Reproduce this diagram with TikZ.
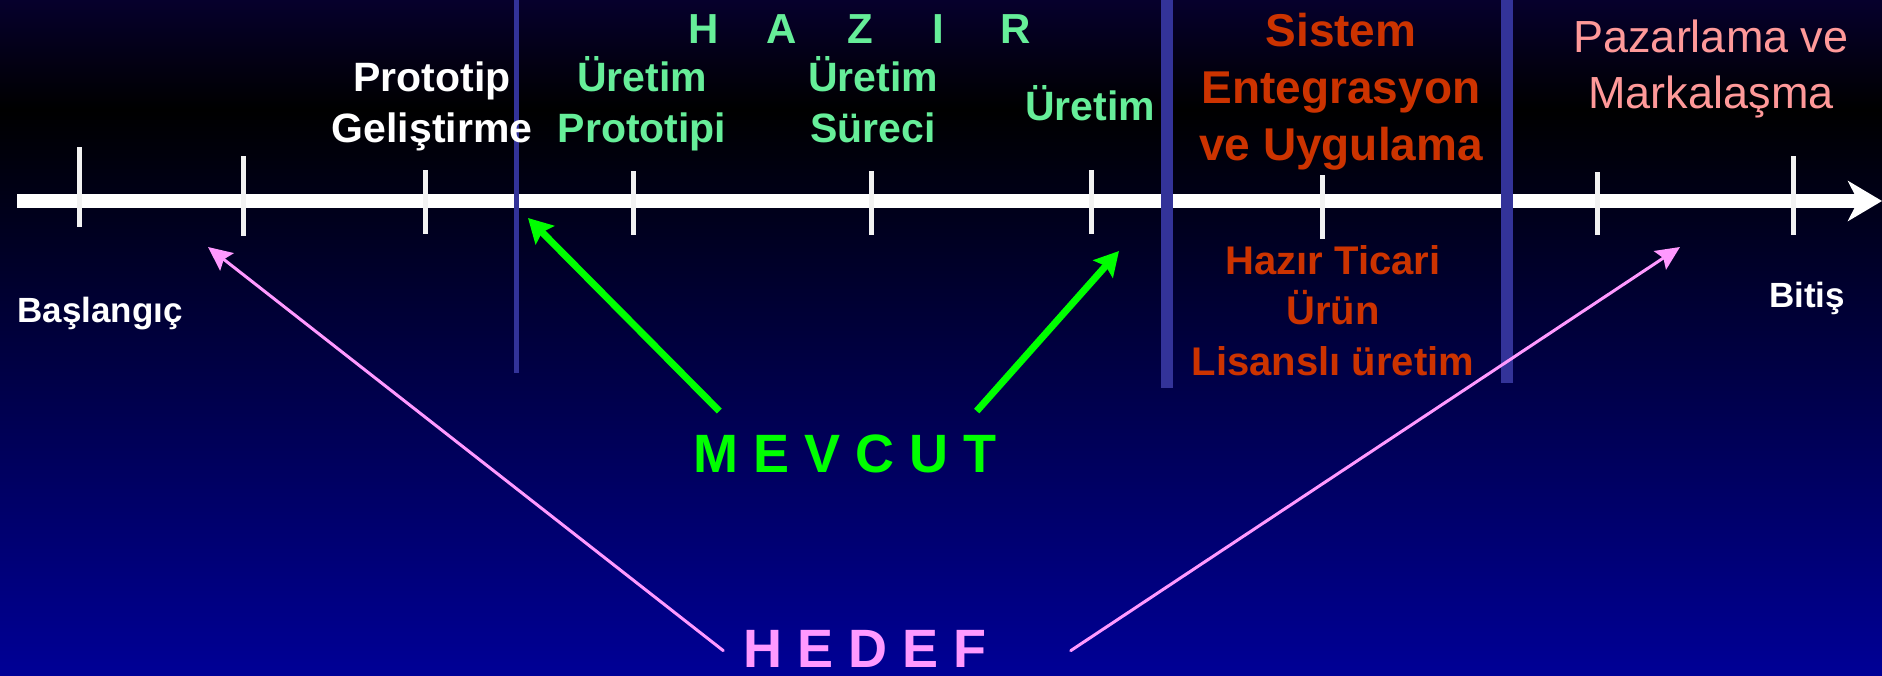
\documentclass[tikz,border=0pt]{standalone}
\usepackage{fontspec}
\setmainfont{Liberation Sans}
\usetikzlibrary{arrows.meta}
\definecolor{bgtop}{RGB}{6,0,44}
\definecolor{bgbottom}{RGB}{0,0,150}
\definecolor{divblue}{RGB}{51,51,153}
\definecolor{tickwhite}{RGB}{242,242,242}
\definecolor{hazirgreen}{RGB}{102,238,153}
\definecolor{mevcutgreen}{RGB}{0,255,0}
\definecolor{sysred}{RGB}{204,51,0}
\definecolor{marketpink}{RGB}{255,153,153}
\definecolor{hedefpink}{RGB}{255,153,255}
\begin{document}
\begin{tikzpicture}[x=1pt,y=-1pt,line join=round,line cap=round,
    txt/.style={inner sep=0pt,anchor=base,align=center,font=\bfseries\fontsize{41}{51}\selectfont},
    divider/.style={draw=divblue,line cap=butt},
    tick/.style={draw=tickwhite,line width=5pt,line cap=butt},
    mevcutarrow/.style={-{Stealth[length=24pt,width=26pt,inset=4pt]},draw=mevcutgreen,fill=mevcutgreen,line width=7pt,line cap=butt},
    hedefarrow/.style={-{Stealth[length=24pt,width=22pt,inset=4pt]},draw=hedefpink,fill=hedefpink,line width=3pt}]
    \useasboundingbox (0,0) rectangle (1882,675);
    \fill[top color=bgtop,bottom color=black] (0,0) rectangle (1882,110);
    \fill[top color=black,bottom color=bgbottom] (0,110) rectangle (1882,675);
    \coordinate (axstart) at (17,201);
    \coordinate (axend) at (1882,201);
    \draw[white,line width=14pt,line cap=butt,-{Stealth[length=34pt,width=40pt,inset=10pt]}] (axstart) -- (axend);
    \draw[divider,line width=5pt] (516,0) -- (516,373);
    \draw[divider,line width=12pt] (1167,0) -- (1167,388);
    \draw[divider,line width=12pt] (1507,0) -- (1507,383);
    \foreach \x/\a/\b in {79/147/227,243/156/236,425/170/234,633/171/235,871/171/235,1091/170/234,1322/175/239,1597/172/235,1793/156/235}
    \draw[tick] (\x,\a) -- (\x,\b);
    \node[txt,white] (protodev) at (432,142) {Prototip\\Geliştirme};
    \node[txt,hazirgreen] (prodproto) at (642,142) {Üretim\\Prototipi};
    \node[txt,hazirgreen] (prodproc) at (873,142) {Üretim\\Süreci};
    \node[txt,hazirgreen] (prod) at (1090,120) {Üretim};
    \foreach \l [count=\i] in {H,A,Z,I,R}
    \node[txt,hazirgreen,font=\bfseries\fontsize{42}{50}\selectfont] (hazir\i) at (626+78*\i,43) {\l};
    \node[txt,sysred,font=\bfseries\fontsize{46}{57}\selectfont] (sysint) at (1341,160) {Sistem\\Entegrasyon\\ve Uygulama};
    \node[txt,sysred,font=\bfseries\fontsize{40}{50.5}\selectfont] (cots) at (1333,375) {Hazır Ticari\\Ürün\\Lisanslı üretim};
    \node[txt,marketpink,font=\fontsize{45}{56}\selectfont] (market) at (1711,108) {Pazarlama ve\\Markalaşma};
    \node[txt,white,font=\bfseries\fontsize{35}{42}\selectfont] (start) at (100,322) {Başlangıç};
    \node[txt,white,font=\bfseries\fontsize{35}{42}\selectfont] (finish) at (1807,307) {Bitiş};
    \node[txt,mevcutgreen,font=\bfseries\fontsize{54}{60}\selectfont] (mevcut) at (845,472) {M E V C U T};
    \node[txt,hedefpink,font=\bfseries\fontsize{54}{60}\selectfont] (hedef) at (865,667) {H E D E F};
    \coordinate (tipproto) at (528,218);
    \coordinate (tipprod) at (1119,251);
    \coordinate (tipstart) at (208,247);
    \coordinate (tipend) at (1680,247);
    \draw[mevcutarrow] ([xshift=26pt,yshift=23pt]mevcut.north west) -- (tipproto);
    \draw[mevcutarrow] ([xshift=-20pt,yshift=23pt]mevcut.north east) -- (tipprod);
    \draw[hedefarrow] ([xshift=-20pt,yshift=-21pt]hedef.north west) -- (tipstart);
    \draw[hedefarrow] ([xshift=84pt,yshift=-21pt]hedef.north east) -- (tipend);
\end{tikzpicture}
\end{document}
